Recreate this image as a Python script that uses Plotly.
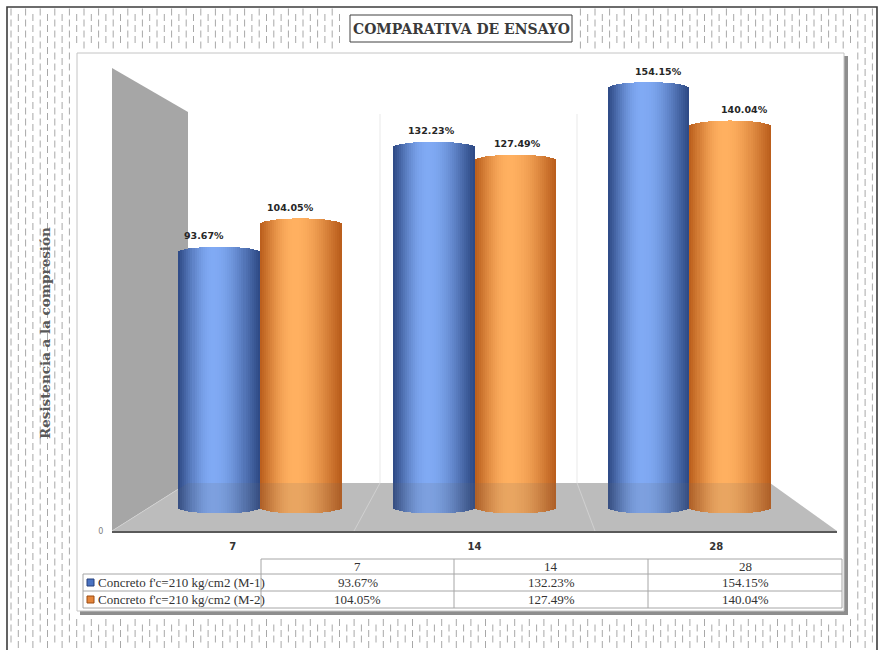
import numpy as np
import plotly.graph_objects as go

W, H = 879, 650

# ---- data ----
categories = ["7", "14", "28"]
series_names = ["Concreto f'c=210 kg/cm2 (M-1)", "Concreto f'c=210 kg/cm2 (M-2)"]
m1_values = [93.67, 132.23, 154.15]
m2_values = [104.05, 127.49, 140.04]
zero_tick = ["0"]

title_text = "COMPARATIVA DE ENSAYO"
y_title_text = "Resistencia a la compresión"


def fx(px):
    return px / W


def fy(py):
    return 1 - py / H


# main value axes: category index on x, percent on y
X0_PX, X_STEP = 259.5, 214.75        # pixel of group centre 0, pixels per category
Y0_PX, Y_SCALE = 507.0, 2.72         # pixel of value 0, pixels per percent
x_rng = [-0.8, 2.8]
y_rng = [-10, 170]
x_dom = [fx(X0_PX + X_STEP * x_rng[0]), fx(X0_PX + X_STEP * x_rng[1])]
y_dom = [fy(Y0_PX - Y_SCALE * y_rng[0]), fy(Y0_PX - Y_SCALE * y_rng[1])]

BAR_W = 0.38                # cylinder width in category units
N_STRIPS = 40               # vertical strips used for the shading of each cylinder
CAP = 6.0 / Y_SCALE         # half height of the elliptical ends, in value units

series = [
    dict(name=series_names[0], values=m1_values, side=-1,
         edge=(36, 62, 120), light=(128, 170, 244)),
    dict(name=series_names[1], values=m2_values, side=0,
         edge=(178, 84, 20), light=(255, 176, 96)),
]


def shade(t, edge, light, t0=-0.15):
    u = (t - t0) / (1 + t0) if t < t0 else (t - t0) / (1 - t0)
    f = np.cos(np.clip(u, -1, 1) * np.pi / 2) ** 1.1
    f = 0.1 + 0.9 * f
    c = [int(round(e + (l - e) * f)) for e, l in zip(edge, light)]
    return "rgb(%d,%d,%d)" % tuple(c)


fig = go.Figure()

xs = list(range(len(categories)))
for s in series:
    vals = np.array(s["values"])
    start = s["side"] * BAR_W
    for k in range(N_STRIPS):
        t = -1 + (2 * k + 1) / N_STRIPS
        cap = CAP * np.sqrt(max(0.0, 1 - t * t))
        fig.add_trace(go.Bar(
            x=xs, y=vals + 2 * cap, base=[-cap] * len(xs),
            offset=start + k * BAR_W / N_STRIPS,
            width=BAR_W / N_STRIPS * 1.08,
            marker=dict(color=shade(t, s["edge"], s["light"]), line=dict(width=0)),
            showlegend=False, hoverinfo="skip",
            xaxis="x", yaxis="y",
        ))

# value labels above each cylinder (slight perspective drift away from centre)
annotations = []
for s in series:
    for i, v in enumerate(s["values"]):
        xc = i + (s["side"] + 0.5) * BAR_W
        annotations.append(dict(
            x=xc, y=v, xref="x", yref="y", text=f"{v:.2f}%", showarrow=False,
            xanchor="center", yanchor="bottom", yshift=CAP * Y_SCALE + 3,
            xshift=(xc - 1.0) * X_STEP * 0.058,
            font=dict(family="DejaVu Sans", size=9.5, color="#262626", weight="bold"),
        ))

# category axis along the front edge of the floor (invisible carrier trace)
fig.add_trace(go.Scatter(x=xs, y=[0.5] * len(xs), xaxis="x2", yaxis="y2", mode="markers",
                         marker=dict(size=1, opacity=0), showlegend=False, hoverinfo="skip"))

# ---- decorative page pattern (short vertical dashes) ----
pat_x, pat_y = [], []
for i, cx in enumerate(np.arange(11, 877, 7.3)):
    for cy in np.arange(12 + (i % 2) * 5.5, H - 2, 11):
        in_panel = 74 <= cx <= 851 and 49 <= cy <= 618
        in_title = 346 <= cx <= 576 and 11 <= cy <= 46
        if not (in_panel or in_title):
            pat_x.append(cx)
            pat_y.append(cy)
fig.add_trace(go.Scatter(
    x=pat_x, y=pat_y, mode="markers", xaxis="x3", yaxis="y3",
    marker=dict(symbol="line-ns", size=5, line=dict(width=1, color="#a8a8a8")),
    showlegend=False, hoverinfo="skip",
))

shapes = []


def rect(x0, y0, x1, y1, fill, line=None, lw=0, layer="below"):
    shapes.append(dict(type="rect", xref="paper", yref="paper",
                       x0=fx(x0), x1=fx(x1), y0=fy(y1), y1=fy(y0),
                       fillcolor=fill, line=dict(color=line or fill, width=lw), layer=layer))


def poly(pts, fill, layer="below", lw=0, line=None):
    path = "M " + " L ".join(f"{fx(a):.5f},{fy(b):.5f}" for a, b in pts) + " Z"
    shapes.append(dict(type="path", xref="paper", yref="paper", path=path,
                       fillcolor=fill, line=dict(color=line or fill, width=lw), layer=layer))


def seg(x0, y0, x1, y1, color, w=1, layer="below"):
    shapes.append(dict(type="line", xref="paper", yref="paper",
                       x0=fx(x0), y0=fy(y0), x1=fx(x1), y1=fy(y1),
                       line=dict(color=color, width=w), layer=layer))


# page frame
rect(7, 7, 877, 660, "white", "#3c3c3c", 1.6)
# chart panel with shadow
rect(80, 56, 848, 615, "#8e8e8e")
rect(77, 53, 844, 611, "white", "#c4c4c4", 1)
# title box
rect(350, 15, 572, 42, "white", "#404040", 1)

# 3-D walls: side wall, floor, back-wall dividers
FLOOR = [(188, 483), (770, 483), (837, 531), (112, 531)]
poly([(112, 68), (188, 112), (188, 483), (112, 531)], "#a6a6a6")
poly(FLOOR, "#cbcbcb")
seg(112, 531, 188, 483, "#dadada", 1)
for bx, fxp in [(380, 354), (577, 595)]:
    seg(bx, 114, bx, 483, "#e9e9e9", 1)
    seg(bx, 483, fxp, 531, "#e2e2e2", 1)
# floor seen through the lower part of the cylinders
poly(FLOOR, "rgba(105,105,105,0.15)", layer="above")

# ---- data table ----
TBL_L = 83
COL_X = [261, 454, 648, 842]
ROW_Y = [559, 574, 591, 608]
tc = "#a6a6a6"
seg(COL_X[0], ROW_Y[0], COL_X[-1], ROW_Y[0], tc, 1, "above")
for ry in ROW_Y[1:]:
    seg(TBL_L, ry, COL_X[-1], ry, tc, 1, "above")
seg(TBL_L, ROW_Y[1], TBL_L, ROW_Y[-1], tc, 1, "above")
for cx in COL_X:
    seg(cx, ROW_Y[0], cx, ROW_Y[-1], tc, 1, "above")

tfont = dict(family="Liberation Serif", size=13, color="#333333")


def label(xp, yp, text, font, xanchor="center", **kw):
    annotations.append(dict(x=fx(xp), y=fy(yp), xref="paper", yref="paper", text=text,
                            showarrow=False, xanchor=xanchor, yanchor="middle",
                            font=font, **kw))


for j, cat in enumerate(categories):
    label((COL_X[j] + COL_X[j + 1]) / 2, (ROW_Y[0] + ROW_Y[1]) / 2, cat, tfont)
key_cols = [("#4a73c2", "#26417a"), ("#e5853a", "#9c4d12")]
for r, s in enumerate(series):
    yc = (ROW_Y[r + 1] + ROW_Y[r + 2]) / 2
    rect(87, yc - 3.5, 94, yc + 3.5, key_cols[r][0], key_cols[r][1], 1, "above")
    label(96, yc, s["name"], tfont, xanchor="left")
    for j, v in enumerate(s["values"]):
        label((COL_X[j] + COL_X[j + 1]) / 2, yc, f"{v:.2f}%", tfont)

# titles
label(461, 29, title_text,
      dict(family="DejaVu Serif", size=14, color="#3a3a3a", weight="bold"))
label(45, 333, y_title_text,
      dict(family="DejaVu Serif", size=13.5, color="#595959", weight="bold"), textangle=-90)

fig.update_layout(
    width=W, height=H, margin=dict(l=0, r=0, t=0, b=0, pad=0, autoexpand=False),
    paper_bgcolor="white", plot_bgcolor="rgba(0,0,0,0)",
    barmode="overlay", bargap=0, showlegend=False,
    shapes=shapes, annotations=annotations,
    xaxis=dict(domain=x_dom, range=x_rng, visible=False, fixedrange=True, automargin=False),
    yaxis=dict(domain=y_dom, range=y_rng, visible=False, fixedrange=True, automargin=False),
    xaxis2=dict(domain=[fx(112), fx(837)], range=[-0.5, 2.5], anchor="y2",
                tickvals=xs, ticktext=categories, showline=True, linecolor="#5a5a5a",
                linewidth=2, showgrid=False, zeroline=False, ticks="outside", ticklen=5,
                tickcolor="rgba(0,0,0,0)", fixedrange=True, automargin=False,
                tickfont=dict(family="DejaVu Sans", size=10, color="#333333", weight="bold")),
    yaxis2=dict(domain=[fy(531), fy(300)], range=[0, 1], anchor="x2",
                tickvals=[0], ticktext=zero_tick, showline=False, showgrid=False,
                zeroline=False, ticks="outside", ticklen=6, tickcolor="rgba(0,0,0,0)",
                fixedrange=True, automargin=False,
                tickfont=dict(family="DejaVu Sans", size=8, color="#808080")),
    xaxis3=dict(domain=[0, 1], range=[0, W], visible=False, anchor="y3", fixedrange=True,
                automargin=False),
    yaxis3=dict(domain=[0, 1], range=[H, 0], visible=False, anchor="x3", fixedrange=True,
                automargin=False),
)

fig.write_html("out.html")
